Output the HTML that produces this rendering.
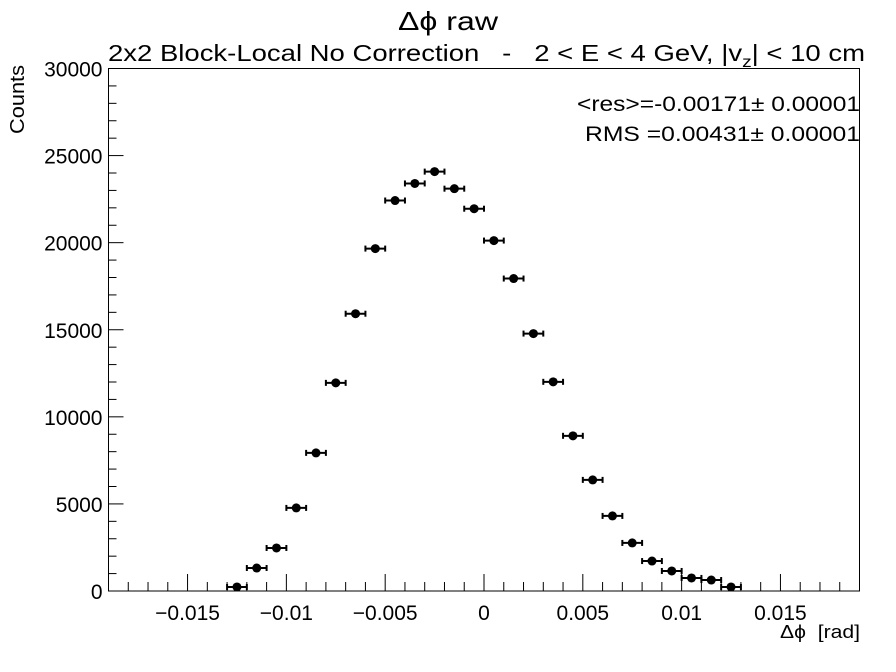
<!DOCTYPE html>
<html><head><meta charset="utf-8">
<style>
body{margin:0;background:#fff;}
svg{display:block;font-family:"Liberation Sans",sans-serif;}
text{white-space:pre;}
</style></head>
<body>
<svg id="chart" width="896" height="672">
<text x="448" y="30" text-anchor="middle" font-size="26" textLength="100" lengthAdjust="spacingAndGlyphs">Δϕ raw</text>
<text x="108" y="61" font-size="23" textLength="757" lengthAdjust="spacingAndGlyphs">2x2 Block-Local No Correction   -   2 &lt; E &lt; 4 GeV, |v<tspan font-size="16" dy="6">z</tspan><tspan dy="-6">| &lt; 10 cm</tspan></text>
<text x="577" y="111" font-size="21" textLength="283" lengthAdjust="spacingAndGlyphs">&lt;res&gt;=-0.00171± 0.00001</text>
<text x="585" y="141" font-size="21" textLength="275" lengthAdjust="spacingAndGlyphs">RMS =0.00431± 0.00001</text>
<text transform="translate(24,134) rotate(-90)" font-size="20" textLength="69" lengthAdjust="spacingAndGlyphs">Counts</text>
<text x="780" y="638" font-size="18" textLength="80" lengthAdjust="spacingAndGlyphs">Δϕ  [rad]</text>
<g id="axes"></g>
<g id="marks"></g>
</svg>
<script>
const binCenters=[-0.0125,-0.0115,-0.0105,-0.0095,-0.0085,-0.0075,-0.0065,-0.0055,-0.0045,-0.0035,-0.0025,-0.0015,-0.0005,0.0005,0.0015,0.0025,0.0035,0.0045,0.0055,0.0065,0.0075,0.0085,0.0095,0.0105,0.0115,0.0125];
const counts=[230,1320,2470,4770,7930,11950,15920,19660,22420,23400,24080,23100,21950,20120,17940,14780,12010,8910,6380,4310,2760,1720,1150,750,630,230];
const xTicks=[-0.015,-0.01,-0.005,0,0.005,0.01,0.015];
const xTickLabels=["−0.015","−0.01","−0.005","0","0.005","0.01","0.015"];
const yTicks=[0,5000,10000,15000,20000,25000,30000];
const yTickLabels=["0","5000","10000","15000","20000","25000","30000"];
const binHalfWidth=0.0005;

const L=108.5,R=859.5,T=68.5,B=591;
const xMin=-0.019,xMax=0.019,yMin=0,yMax=30000;
function X(v){return L+(v-xMin)/(xMax-xMin)*(R-L);}
function Y(v){return B-(v-yMin)/(yMax-yMin)*(B-T);}
const NS="http://www.w3.org/2000/svg";
function mk(tag,attrs,parent){const e=document.createElementNS(NS,tag);for(const k in attrs)e.setAttribute(k,attrs[k]);parent.appendChild(e);return e;}
const axes=document.getElementById('axes'),marks=document.getElementById('marks');
const frame=mk('rect',{x:L,y:T,width:R-L,height:B-T,fill:'none',stroke:'#000','stroke-width':1},axes);


for(let i=-19;i<=19;i++){const v=i*0.001;const major=(i%5===0);
 const t=mk('line',{x1:X(v),x2:X(v),y1:B,y2:B-(major?17:9),stroke:'#000','stroke-width':1},axes);
 
 }
xTicks.forEach((v,i)=>{const t=mk('text',{x:X(v),y:B+29,'text-anchor':'middle','font-size':21},axes);t.textContent=xTickLabels[i];
 
 });
for(let v=0;v<=30000;v+=1000){const major=(v%5000===0);
 const t=mk('line',{x1:L,x2:L+(major?15:8),y1:Y(v),y2:Y(v),stroke:'#000','stroke-width':1},axes);
 
 }
yTicks.forEach((v,i)=>{const t=mk('text',{x:L-6,y:Y(v)+8,'text-anchor':'end','font-size':21},axes);t.textContent=yTickLabels[i];
 
 });
binCenters.forEach((c,i)=>{const g=mk('g',{},marks);
 
 
 const y=Y(counts[i]),x1=X(c-binHalfWidth),x2=X(c+binHalfWidth);
 mk('line',{x1:x1,x2:x2,y1:y,y2:y,stroke:'#000','stroke-width':2},g);
 mk('line',{x1:x1,x2:x1,y1:y-3,y2:y+3,stroke:'#000','stroke-width':2},g);
 mk('line',{x1:x2,x2:x2,y1:y-3,y2:y+3,stroke:'#000','stroke-width':2},g);
 mk('circle',{cx:X(c),cy:y,r:4.5,fill:'#000'},g);});
</script>
</body></html>
